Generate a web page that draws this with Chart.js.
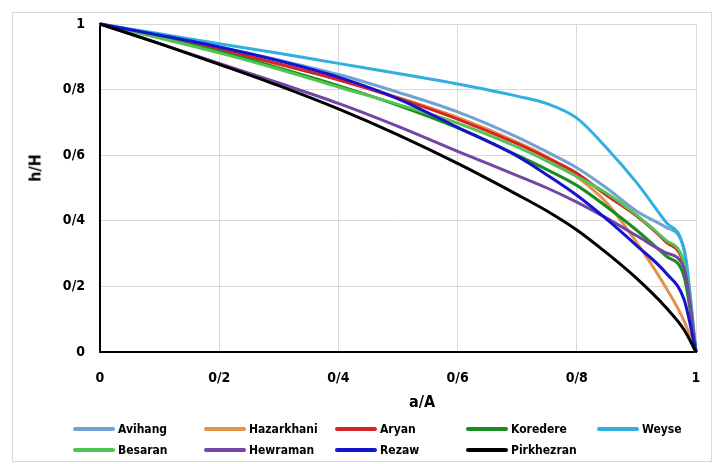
<!DOCTYPE html>
<html>
<head>
<meta charset="utf-8">
<script src="https://cdn.jsdelivr.net/npm/chart.js@4.4.1/dist/chart.umd.min.js"></script>
<style>
  html, body { margin: 0; padding: 0; background: #fff; }
  #wrap { position: relative; width: 713px; height: 464px; overflow: hidden; }
  #frame { position: absolute; left: 12px; top: 12px; width: 700px; height: 450px;
           border: 1px solid #d9d9d9; box-sizing: border-box; }
  #chart { position: absolute; left: 0; top: 0; }
  .axis-title { position: absolute; font-weight: bold; color: #000; white-space: nowrap;
                font-family: "DejaVu Sans Condensed", "Liberation Sans", sans-serif; }
  #xTitle { left: 422px; top: 401px; font-size: 16px; transform: translate(-50%, -50%); }
  #yTitle { left: 35px; top: 168px; font-size: 16px; transform: translate(-50%, -50%) rotate(-90deg); }
  #legend { position: absolute; left: 73px; top: 418px; display: grid;
            grid-template-columns: repeat(5, 131px); grid-auto-rows: 21px; }
  .item { display: flex; align-items: center; }
  .swatch { width: 42px; height: 4px; border-radius: 2px; margin-right: 3px; flex: none; }
  .name { font: bold 12px "DejaVu Sans Condensed", "Liberation Sans", sans-serif; color: #000; }
</style>
</head>
<body>
<div id="wrap">
  <div id="frame"></div>
  <canvas id="chart" width="713" height="464"></canvas>
  <div class="axis-title" id="xTitle">a/A</div>
  <div class="axis-title" id="yTitle">h/H</div>
  <div id="legend"></div>
</div>
<script>
// Relative area (a/A) sample positions shared by every basin curve
const areaRatio = [0, 0.1, 0.2, 0.3, 0.4, 0.5, 0.6, 0.7, 0.75, 0.8, 0.85, 0.9, 0.95, 0.98, 1];

// Relative height (h/H) of each basin at the positions above
const avihang    = [1, 0.966, 0.93, 0.89, 0.846, 0.792, 0.732, 0.655, 0.61, 0.562, 0.5, 0.43, 0.38, 0.315, 0];
const hazarkhani = [1, 0.962, 0.922, 0.877, 0.83, 0.776, 0.715, 0.64, 0.595, 0.535, 0.455, 0.335, 0.195, 0.095, 0];
const aryan      = [1, 0.962, 0.922, 0.878, 0.83, 0.774, 0.71, 0.635, 0.592, 0.545, 0.478, 0.415, 0.335, 0.262, 0];
const koredere   = [1, 0.96, 0.916, 0.866, 0.812, 0.752, 0.683, 0.6, 0.556, 0.508, 0.443, 0.372, 0.292, 0.23, 0];
const weyse      = [1, 0.97, 0.94, 0.911, 0.88, 0.849, 0.817, 0.78, 0.757, 0.713, 0.622, 0.517, 0.395, 0.31, 0];
const besaran    = [1, 0.957, 0.912, 0.862, 0.808, 0.755, 0.698, 0.625, 0.582, 0.535, 0.484, 0.418, 0.34, 0.27, 0];
const hewraman   = [1, 0.94, 0.88, 0.82, 0.758, 0.688, 0.612, 0.538, 0.5, 0.457, 0.408, 0.355, 0.302, 0.255, 0];
const rezaw      = [1, 0.966, 0.93, 0.888, 0.838, 0.772, 0.685, 0.597, 0.54, 0.478, 0.405, 0.325, 0.24, 0.16, 0];
const pirkhezran = [1, 0.94, 0.877, 0.812, 0.741, 0.662, 0.575, 0.48, 0.43, 0.372, 0.302, 0.225, 0.135, 0.068, 0];

const basinNames  = ['Avihang', 'Hazarkhani', 'Aryan', 'Koredere', 'Weyse',
                     'Besaran', 'Hewraman', 'Rezaw', 'Pirkhezran'];
const basinValues = [avihang, hazarkhani, aryan, koredere, weyse,
                     besaran, hewraman, rezaw, pirkhezran];
const basinColors = ['#72a1d2', '#e3914c', '#d62424', '#1b8c1f', '#2fb0e0',
                     '#52c452', '#7446a4', '#1414cf', '#000000'];

// Axis tick labels (decimal separator written as "/")
const tickLabels = ['0', '0/2', '0/4', '0/6', '0/8', '1'];

const tickFont = { family: '"DejaVu Sans Condensed", "Liberation Sans", sans-serif', size: 14, weight: 'bold' };

const datasets = basinNames.map((name, i) => ({
  label: name,
  data: areaRatio.map((a, k) => ({ x: a, y: basinValues[i][k] })),
  borderColor: basinColors[i],
  backgroundColor: basinColors[i],
  borderWidth: 3,
  pointRadius: 0,
  fill: false,
  cubicInterpolationMode: 'monotone',
  clip: false,
  order: basinNames.length - i   // later series drawn on top
}));

new Chart(document.getElementById('chart'), {
  type: 'line',
  data: { datasets },
  options: {
    responsive: false,
    animation: false,
    layout: { autoPadding: false, padding: { left: 0, right: 17, top: 24, bottom: 0 } },
    plugins: { legend: { display: false }, tooltip: { enabled: false } },
    scales: {
      x: {
        type: 'linear', min: 0, max: 1,
        afterFit: (s) => { s.height = 112; s.paddingLeft = 0; s.paddingRight = 0; },
        grid: { color: '#d9d9d9', lineWidth: 1, drawTicks: false },
        border: { color: '#000', width: 2 },
        ticks: { stepSize: 0.2, padding: 18, color: '#000', font: tickFont,
                 maxRotation: 0, autoSkip: false,
                 callback: (v) => tickLabels[Math.round(v * 5)] }
      },
      y: {
        type: 'linear', min: 0, max: 1,
        afterFit: (s) => { s.width = 100; s.paddingTop = 0; s.paddingBottom = 0; },
        grid: { color: '#d9d9d9', lineWidth: 1, drawTicks: false },
        border: { color: '#000', width: 2 },
        ticks: { stepSize: 0.2, padding: 15, color: '#000', font: tickFont,
                 callback: (v) => tickLabels[Math.round(v * 5)] }
      }
    }
  }
});

// Legend laid out in five columns, built from the series lists
const legend = document.getElementById('legend');
basinNames.forEach((name, i) => {
  const item = document.createElement('div');
  item.className = 'item';
  const sw = document.createElement('span');
  sw.className = 'swatch';
  sw.style.background = basinColors[i];
  const tx = document.createElement('span');
  tx.className = 'name';
  tx.textContent = name;
  item.appendChild(sw);
  item.appendChild(tx);
  legend.appendChild(item);
});
</script>
</body>
</html>
